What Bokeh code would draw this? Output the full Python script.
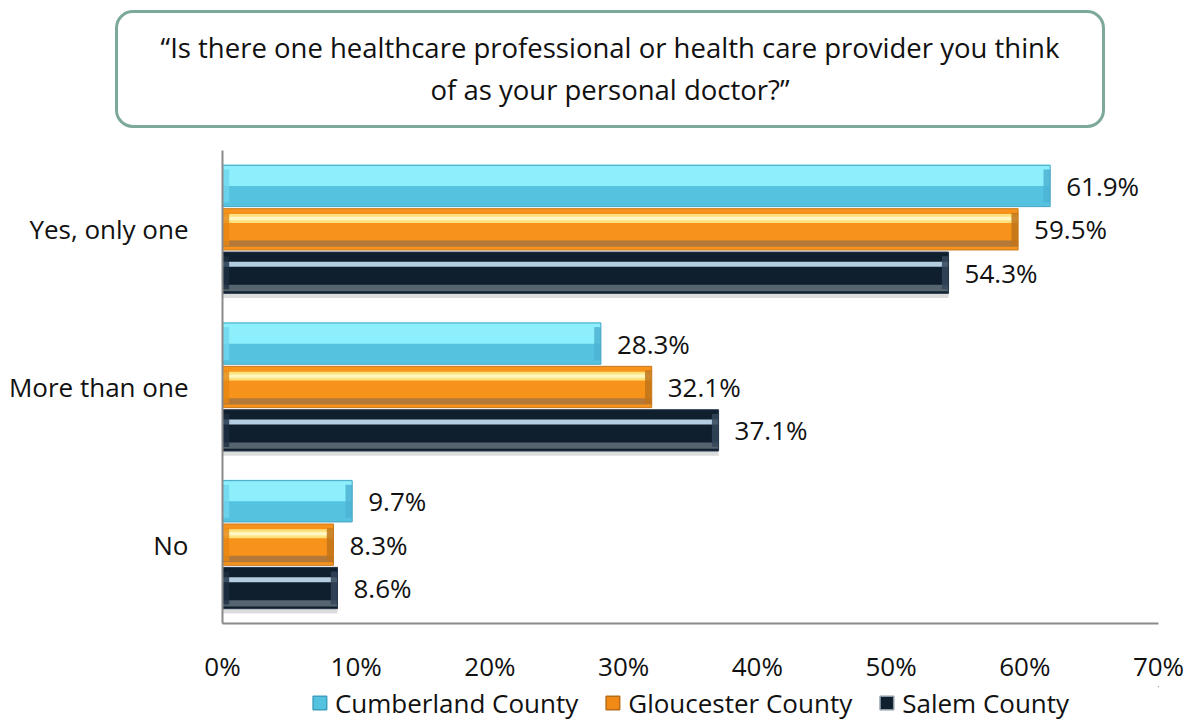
from bokeh.plotting import figure
from bokeh.models import (Range1d, FactorRange, Legend, LegendItem, Div,
                          FixedTicker, ColumnDataSource)
from bokeh.transform import dodge
from bokeh.layouts import column
from bokeh.core.properties import value
from bokeh.embed import file_html
from bokeh.resources import INLINE

# ---------------- data ----------------
categories = ["Yes, only one", "More than one", "No"]
series_names = ["Cumberland County", "Gloucester County", "Salem County"]
cumberland = [61.9, 28.3, 9.7]
gloucester = [59.5, 32.1, 8.3]
salem = [54.3, 37.1, 8.6]
x_ticks = [0, 10, 20, 30, 40, 50, 60, 70]
x_tick_labels = ["0%", "10%", "20%", "30%", "40%", "50%", "60%", "70%"]
title_lines = ["\u201cIs there one healthcare professional or health care provider you think",
               "of as your personal doctor?\u201d"]

FONT = "Open Sans"
FS = "26px"

source = ColumnDataSource(dict(
    cat=categories,
    cumberland=cumberland,
    gloucester=gloucester,
    salem=salem,
    cumberland_lbl=[f"{v:.1f}%" for v in cumberland],
    gloucester_lbl=[f"{v:.1f}%" for v in gloucester],
    salem_lbl=[f"{v:.1f}%" for v in salem],
))

W = 1190
LEFT = 222
RIGHT = W - 1158
p = figure(width=W, height=536, output_backend="svg", toolbar_location=None,
           y_range=FactorRange(factors=categories[::-1]),
           x_range=Range1d(0, 70),
           min_border_left=LEFT, min_border_right=RIGHT, min_border_top=0,
           min_border_bottom=62)
p.outline_line_color = None
p.xgrid.grid_line_color = None
p.ygrid.grid_line_color = None
p.background_fill_color = "white"
p.border_fill_color = "white"

OFF = 0.275
H = 0.262
CAP = 0.5  # bevel end-cap width (x units)

# (field, group offset, base color, line color, bands, left cap color, right cap color)
specs = [
    ("cumberland", OFF, "#55c2df", "#4aa6c4",
     [(0.068, 0.136, "#8ceffb")], "#6fd6ee", "#4cb3d3"),
    ("gloucester", 0.0, "#f7931b", "#c8791f",
     [(0.069, 0.057, "#ffe27e"), (0.069, 0.022, "#fff6c0"), (-0.091, 0.04, "#b47838")],
     "#e7860f", "#c27418"),
    ("salem", -OFF, "#0f1f2e", "#26384a",
     [(0.053, 0.032, "#b4cde0"), (-0.097, 0.04, "#56646f")], "#1d3042", "#34475a"),
]

for field, goff, col, lcol, bands, lcap, rcap in specs:
    ydodge = dodge("cat", goff, range=p.y_range)
    if field == "salem":
        # soft shadow under the dark bars
        p.hbar(y=dodge("cat", goff - 0.03, range=p.y_range), left=0, right=field,
               height=H, source=source, fill_color="#9a9a9a", fill_alpha=0.35,
               line_color=None)
    p.hbar(y=ydodge, left=0, right=field,
           height=H, source=source, fill_color=col, line_color=None)
    for boff, bh, bcol in bands:
        p.hbar(y=dodge("cat", goff + boff, range=p.y_range), left=0, right=field,
               height=bh, source=source, fill_color=bcol, line_color=None)
    # bevel end caps
    p.hbar(y=ydodge, left=0, right=CAP, height=H * 0.8, source=source,
           fill_color=lcap, fill_alpha=0.8, line_color=None)
    p.hbar(y=ydodge, left=dodge(field, -CAP), right=field, height=H * 0.8, source=source,
           fill_color=rcap, fill_alpha=0.85, line_color=None)
    # outline
    p.hbar(y=ydodge, left=0, right=field,
           height=H, source=source, fill_color=None, line_color=lcol, line_width=1)
    p.text(x=field, y=ydodge, text=field + "_lbl",
           source=source, x_offset=16, text_baseline="middle", text_align="left",
           text_font=value(FONT), text_font_size=FS, text_color="#111111")

# axes
p.xaxis.ticker = FixedTicker(ticks=x_ticks)
p.xaxis.major_label_overrides = {t: l for t, l in zip(x_ticks, x_tick_labels)}
p.xaxis.axis_line_color = "#8a8a8a"
p.xaxis.axis_line_width = 2
p.xaxis.major_tick_line_color = None
p.xaxis.minor_tick_line_color = None
p.xaxis.major_label_standoff = 18
p.xaxis.major_label_text_font = FONT
p.xaxis.major_label_text_font_size = FS
p.xaxis.major_label_text_color = "#111111"

p.yaxis.axis_line_color = "#8a8a8a"
p.yaxis.axis_line_width = 2
p.yaxis.major_tick_line_color = None
p.yaxis.minor_tick_line_color = None
p.yaxis.major_label_standoff = 28
p.yaxis.major_label_text_font = FONT
p.yaxis.major_label_text_font_size = FS
p.yaxis.major_label_text_color = "#111111"

# ---- legend strip (separate small figure sharing the same frame margins) ----
lg = figure(width=W, height=33, output_backend="svg", toolbar_location=None,
            x_range=Range1d(0, 1), y_range=Range1d(0, 1),
            x_axis_location=None, y_axis_location=None,
            min_border_left=LEFT, min_border_right=RIGHT, min_border_top=0,
            min_border_bottom=0)
lg.outline_line_color = None
lg.xgrid.grid_line_color = None
lg.ygrid.grid_line_color = None
swatch_styles = [("#55c2df", "#3f9fbf"), ("#f08a14", "#b86e18"), ("#0f1f2e", "#8a98a4")]
items = []
for name, (fc, lc) in zip(series_names, swatch_styles):
    # one bar placed far outside the view so only the legend swatch shows
    r = lg.hbar(y=[50], left=[50], right=[51], height=1, fill_color=fc,
                line_color=lc, line_width=1.5)
    items.append(LegendItem(label=name, renderers=[r]))
legend = Legend(items=items, orientation="horizontal", location="center",
                label_text_font=FONT, label_text_font_size=FS, label_text_color="#111111",
                glyph_width=17, glyph_height=17, label_standoff=7, spacing=26,
                padding=0, margin=0, border_line_color=None, background_fill_alpha=0)
lg.add_layout(legend)

title_html = (
    '<div style="margin-left:115px;margin-top:10px;width:990px;height:118px;box-sizing:border-box;'
    'border:3px solid #7da99b;border-radius:18px;background:white;display:flex;align-items:center;'
    'justify-content:center;text-align:center;font-family:\'Open Sans\';font-size:27.5px;'
    'line-height:42px;color:#111111;">' + "<br>".join(title_lines) + '</div>'
)
title = Div(text=title_html, width=W, height=150, margin=0)

layout = column(title, p, lg, spacing=0)
open("out.html", "w").write(file_html(layout, INLINE))
